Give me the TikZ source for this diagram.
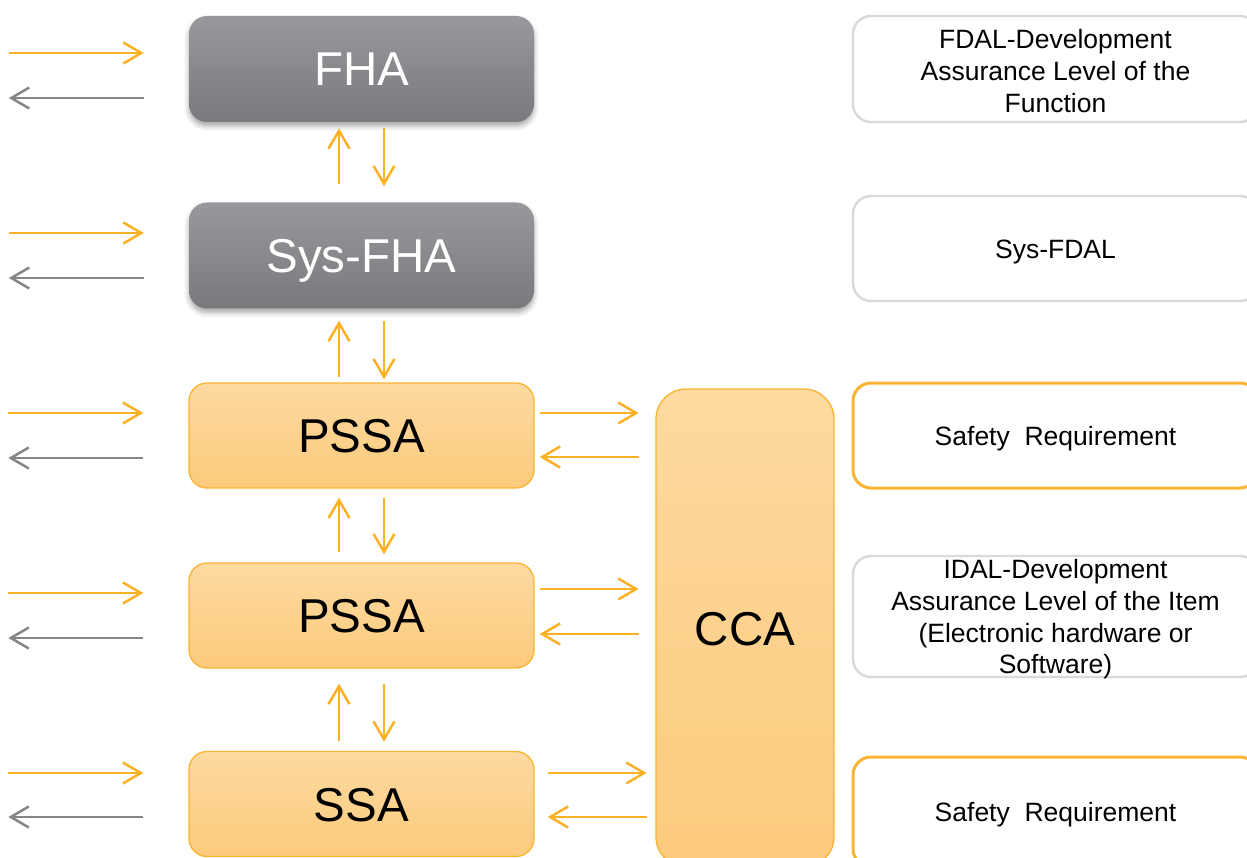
\documentclass[tikz,border=0pt]{standalone}
\usepackage{fontspec}
\setmainfont{Liberation Sans}
\usetikzlibrary{arrows.meta,shadows.blur}

\definecolor{arrorange}{RGB}{251,177,36}
\definecolor{arrgray}{RGB}{134,134,138}
\definecolor{boxline}{RGB}{250,180,52}
\definecolor{boxtop}{RGB}{253,218,160}
\definecolor{boxbot}{RGB}{252,202,124}
\definecolor{graytop}{RGB}{153,153,157}
\definecolor{graybot}{RGB}{121,121,125}
\definecolor{paleline}{RGB}{217,217,217}

\tikzset{
  bigfont/.style={font=\fontsize{47.5}{54}\selectfont, text height=34pt, text depth=0pt},
  graybox/.style={rectangle, rounded corners=18pt, minimum width=345pt, minimum height=106pt,
    top color=graytop, bottom color=graybot, draw=none, text=white, bigfont,
    blur shadow={shadow xshift=0pt, shadow yshift=-4pt, shadow blur radius=5pt, shadow opacity=35}},
  orangebox/.style={rectangle, rounded corners=18pt, minimum width=345pt, minimum height=105pt,
    top color=boxtop, bottom color=boxbot, draw=boxline, line width=1.3pt, text=black, bigfont},
  ccabox/.style={rectangle, rounded corners=30pt, minimum width=178pt, minimum height=478pt,
    top color=boxtop, bottom color=boxbot, draw=boxline, line width=1.3pt, text=black, bigfont},
  notebox/.style={rectangle, rounded corners=18pt, minimum width=405pt, fill=white, inner sep=0pt},
  palenote/.style={notebox, draw=paleline, line width=2.4pt},
  warmnote/.style={notebox, draw=boxline, line width=3pt},
  notetext/.style={align=center, text=black, font=\fontsize{26.5}{31.7}\selectfont, inner sep=0pt},
  oarr/.style={draw=arrorange, line width=2.5pt, -{Straight Barb[length=18pt,width=21pt]}},
  garr/.style={draw=arrgray, line width=2.5pt, -{Straight Barb[length=18pt,width=21pt]}},
}

\begin{document}
\begin{tikzpicture}[x=1pt, y=-1pt]
  \useasboundingbox (0,0) rectangle (1247,858);
  \clip (0,0) rectangle (1247,858);

  % analysis chain
  \node[graybox]   (fha)   at (361.5,69)    {FHA};
  \node[graybox]   (sys)   at (361.5,255.5) {Sys-FHA};
  \node[orangebox] (pssa1) at (361.5,435.5) {PSSA};
  \node[orangebox] (pssa2) at (361.5,615.5) {PSSA};
  \node[orangebox] (ssa)   at (361.5,804)   {SSA};
  \node[ccabox]    (cca)   at (745,628)     {CCA};

  % outputs of each step
  \node[palenote, minimum height=106pt] (fdal)  at (1055.5,69)    {};
  \node[palenote, minimum height=105pt] (sfdal) at (1055.5,248.5) {};
  \node[warmnote, minimum height=105pt] (req1)  at (1055.5,435.5) {};
  \node[palenote, minimum height=121pt] (idal)  at (1055.5,616.5) {};
  \node[warmnote, minimum height=110pt] (req2)  at (1055.5,812)   {};

  \node[notetext] (fdaltxt)  at ([yshift=-2pt]fdal.center)
    {FDAL-Development\\Assurance Level of the\\Function};
  \node[notetext] (sfdaltxt) at ([yshift=-3.5pt]sfdal.center) {Sys-FDAL};
  \node[notetext] (req1txt)  at ([yshift=-3.5pt]req1.center) {Safety\ \ Requirement};
  \node[notetext] (idaltxt)  at ([yshift=-3pt]idal.center)
    {IDAL-Development\\Assurance Level of the Item\\(Electronic hardware or\\Software)};
  \node[notetext] (req2txt)  at ([yshift=-3pt]req2.center) {Safety\ \ Requirement};

  % inputs and feedback on the left
  \draw[oarr] ([xshift=-180pt,yshift=16pt]fha.west)   -- ([xshift=-45pt,yshift=16pt]fha.west);
  \draw[garr] ([xshift=-45pt,yshift=-29pt]fha.west)   -- ([xshift=-180pt,yshift=-29pt]fha.west);
  \draw[oarr] ([xshift=-180pt,yshift=22.5pt]sys.west) -- ([xshift=-45pt,yshift=22.5pt]sys.west);
  \draw[garr] ([xshift=-45pt,yshift=-22.5pt]sys.west) -- ([xshift=-180pt,yshift=-22.5pt]sys.west);
  \draw[oarr] ([xshift=-180pt,yshift=22.5pt]pssa1.west) -- ([xshift=-45pt,yshift=22.5pt]pssa1.west);
  \draw[garr] ([xshift=-45pt,yshift=-22.5pt]pssa1.west) -- ([xshift=-180pt,yshift=-22.5pt]pssa1.west);
  \draw[oarr] ([xshift=-180pt,yshift=22.5pt]pssa2.west) -- ([xshift=-45pt,yshift=22.5pt]pssa2.west);
  \draw[garr] ([xshift=-45pt,yshift=-22.5pt]pssa2.west) -- ([xshift=-180pt,yshift=-22.5pt]pssa2.west);
  \draw[oarr] ([xshift=-180pt,yshift=31pt]ssa.west) -- ([xshift=-45pt,yshift=31pt]ssa.west);
  \draw[garr] ([xshift=-45pt,yshift=-13pt]ssa.west) -- ([xshift=-180pt,yshift=-13pt]ssa.west);

  % links between neighbouring steps
  \draw[oarr] ([xshift=-22.5pt,yshift=18pt]sys.north) -- ([xshift=-22.5pt,yshift=-6pt]fha.south);
  \draw[oarr] ([xshift=22.5pt,yshift=-6pt]fha.south)  -- ([xshift=22.5pt,yshift=16pt]sys.north);
  \draw[oarr] ([xshift=-22.5pt,yshift=5pt]pssa1.north) -- ([xshift=-22.5pt,yshift=-12pt]sys.south);
  \draw[oarr] ([xshift=22.5pt,yshift=-12pt]sys.south)  -- ([xshift=22.5pt,yshift=3pt]pssa1.north);
  \draw[oarr] ([xshift=-22.5pt,yshift=10pt]pssa2.north) -- ([xshift=-22.5pt,yshift=-9pt]pssa1.south);
  \draw[oarr] ([xshift=22.5pt,yshift=-9pt]pssa1.south)  -- ([xshift=22.5pt,yshift=8pt]pssa2.north);
  \draw[oarr] ([xshift=-22.5pt,yshift=10pt]ssa.north) -- ([xshift=-22.5pt,yshift=-15pt]pssa2.south);
  \draw[oarr] ([xshift=22.5pt,yshift=-15pt]pssa2.south) -- ([xshift=22.5pt,yshift=9pt]ssa.north);

  % exchanges with the common cause analysis
  \draw[oarr] ([xshift=5pt,yshift=22.5pt]pssa1.east)  -- ([xshift=104pt,yshift=22.5pt]pssa1.east);
  \draw[oarr] ([xshift=104pt,yshift=-21.5pt]pssa1.east) -- ([xshift=5pt,yshift=-21.5pt]pssa1.east);
  \draw[oarr] ([xshift=5pt,yshift=26.5pt]pssa2.east)  -- ([xshift=104pt,yshift=26.5pt]pssa2.east);
  \draw[oarr] ([xshift=104pt,yshift=-18.5pt]pssa2.east) -- ([xshift=5pt,yshift=-18.5pt]pssa2.east);
  \draw[oarr] ([xshift=13pt,yshift=31pt]ssa.east)  -- ([xshift=112pt,yshift=31pt]ssa.east);
  \draw[oarr] ([xshift=112pt,yshift=-13pt]ssa.east) -- ([xshift=13pt,yshift=-13pt]ssa.east);
\end{tikzpicture}
\end{document}
